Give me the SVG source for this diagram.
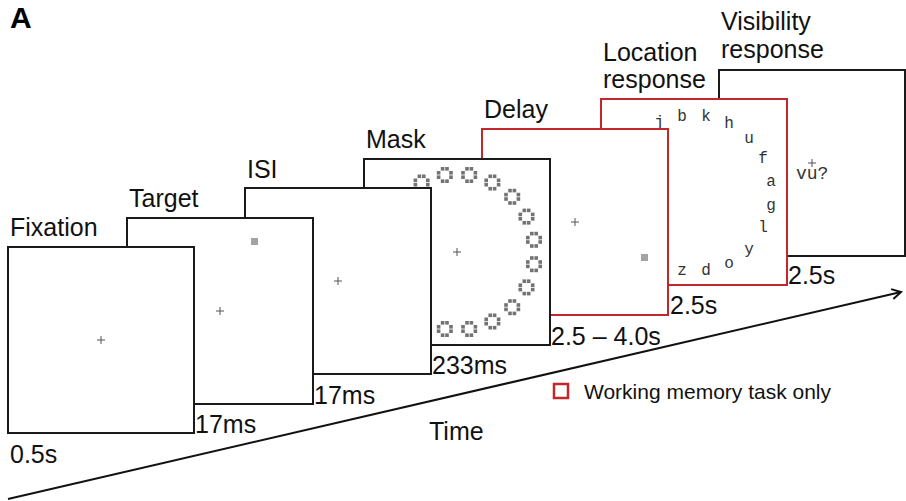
<svg xmlns="http://www.w3.org/2000/svg" width="906" height="501" viewBox="0 0 906 501">
  <style>
    .frame { fill: #ffffff; stroke: #1a1a1a; stroke-width: 2; }
    .frame.wm { stroke: #c3262b; }
    .lbl { font-family: "Liberation Sans", Arial, sans-serif; font-size: 25px; fill: #111; }
    .leg { font-family: "Liberation Sans", Arial, sans-serif; font-size: 21px; fill: #111; }
    .mono { font-family: "Liberation Mono", "Courier New", monospace; fill: #333; }
    .fix { stroke: #555; stroke-width: 1; fill: none; }
    .stim { fill: #a3a3a3; }
    .maskcell { fill: #737373; }
  </style>
  <defs>
    <!-- fixation cross -->
    <path id="cross" class="fix" d="M -4 0 H 4 M 0 -4 V 4"/>
    <!-- single mask element: octagonal ring of cells -->
    <g id="m">
      <rect class="maskcell" x="-4" y="-8" width="3.6" height="3.6"/>
      <rect class="maskcell" x="0.4" y="-8" width="3.6" height="3.6"/>
      <rect class="maskcell" x="-8" y="-4" width="3.6" height="3.6"/>
      <rect class="maskcell" x="4.4" y="-4" width="3.6" height="3.6"/>
      <rect class="maskcell" x="-8" y="0.4" width="3.6" height="3.6"/>
      <rect class="maskcell" x="4.4" y="0.4" width="3.6" height="3.6"/>
      <rect class="maskcell" x="-4" y="4.4" width="3.6" height="3.6"/>
      <rect class="maskcell" x="0.4" y="4.4" width="3.6" height="3.6"/>
    </g>
    <marker id="open" viewBox="0 0 12 12" refX="10" refY="6" markerWidth="12" markerHeight="12" markerUnits="userSpaceOnUse" orient="auto">
      <path d="M 1 1 L 10 6 L 1 11" fill="none" stroke="#111" stroke-width="2"/>
    </marker>
  </defs>

  <text x="10" y="28" font-family="Liberation Sans, Arial, sans-serif" font-size="30" font-weight="bold" fill="#000">A</text>

  <!-- connectors: time axis -->
  <g id="connectors">
    <line x1="8" y1="499" x2="901" y2="292" stroke="#111" stroke-width="2" marker-end="url(#open)"/>
  </g>

  <!-- screens, drawn back to front -->
  <g id="visibility">
    <rect class="frame" x="719" y="70" width="186" height="186"/>
    <use href="#cross" x="812" y="163"/>
    <text class="mono" x="796" y="179" font-size="18">vu?</text>
    <text class="lbl" x="721" y="30">Visibility</text>
    <text class="lbl" x="721" y="58">response</text>
    <text class="lbl" x="788" y="284">2.5s</text>
  </g>

  <g id="location">
    <rect class="frame wm" x="601" y="99" width="186" height="186"/>
    <g class="mono" font-size="16" text-anchor="middle">
      <text x="659" y="127">j</text>
      <text x="682" y="121">b</text>
      <text x="706" y="121">k</text>
      <text x="729" y="128">h</text>
      <text x="749" y="143">u</text>
      <text x="763" y="163">f</text>
      <text x="771" y="186">a</text>
      <text x="771" y="210">g</text>
      <text x="763" y="232">l</text>
      <text x="749" y="254">y</text>
      <text x="729" y="268">o</text>
      <text x="706" y="275">d</text>
      <text x="682" y="275">z</text>
    </g>
    <text class="lbl" x="603" y="61">Location</text>
    <text class="lbl" x="603" y="88">response</text>
    <text class="lbl" x="670" y="314">2.5s</text>
  </g>

  <g id="delay">
    <rect class="frame wm" x="482" y="129" width="186" height="186"/>
    <use href="#cross" x="575" y="222"/>
    <rect class="stim" x="641" y="254" width="7" height="7"/>
    <text class="lbl" x="484" y="118">Delay</text>
    <text class="lbl" x="551" y="345">2.5 – 4.0s</text>
  </g>

  <g id="mask">
    <rect class="frame" x="364" y="159" width="186" height="186"/>
    <use href="#cross" x="457" y="252"/>
    <use href="#m" x="421.6" y="182.5"/>
    <use href="#m" x="444.8" y="175.0"/>
    <use href="#m" x="469.2" y="175.0"/>
    <use href="#m" x="492.4" y="182.5"/>
    <use href="#m" x="512.2" y="196.8"/>
    <use href="#m" x="526.5" y="216.6"/>
    <use href="#m" x="534.0" y="239.8"/>
    <use href="#m" x="534.0" y="264.2"/>
    <use href="#m" x="526.5" y="287.4"/>
    <use href="#m" x="512.2" y="307.2"/>
    <use href="#m" x="492.4" y="321.5"/>
    <use href="#m" x="469.2" y="329.0"/>
    <use href="#m" x="444.8" y="329.0"/>
    <text class="lbl" x="366" y="148">Mask</text>
    <text class="lbl" x="432" y="374">233ms</text>
  </g>

  <g id="isi">
    <rect class="frame" x="245" y="188" width="186" height="186"/>
    <use href="#cross" x="338" y="281"/>
    <text class="lbl" x="247" y="178">ISI</text>
    <text class="lbl" x="314" y="404">17ms</text>
  </g>

  <g id="target">
    <rect class="frame" x="127" y="218" width="186" height="186"/>
    <use href="#cross" x="220" y="311"/>
    <rect class="stim" x="251" y="238" width="7" height="7"/>
    <text class="lbl" x="129" y="207">Target</text>
    <text class="lbl" x="195" y="433">17ms</text>
  </g>

  <g id="fixation">
    <rect class="frame" x="8" y="247" width="186" height="186"/>
    <use href="#cross" x="101" y="340"/>
    <text class="lbl" x="10" y="236">Fixation</text>
    <text class="lbl" x="10" y="463">0.5s</text>
  </g>

  <g id="legend">
    <rect x="554" y="384" width="14" height="14" fill="none" stroke="#c3262b" stroke-width="2.5"/>
    <text class="leg" x="584" y="399">Working memory task only</text>
  </g>

  <text class="lbl" x="429" y="440">Time</text>
</svg>
